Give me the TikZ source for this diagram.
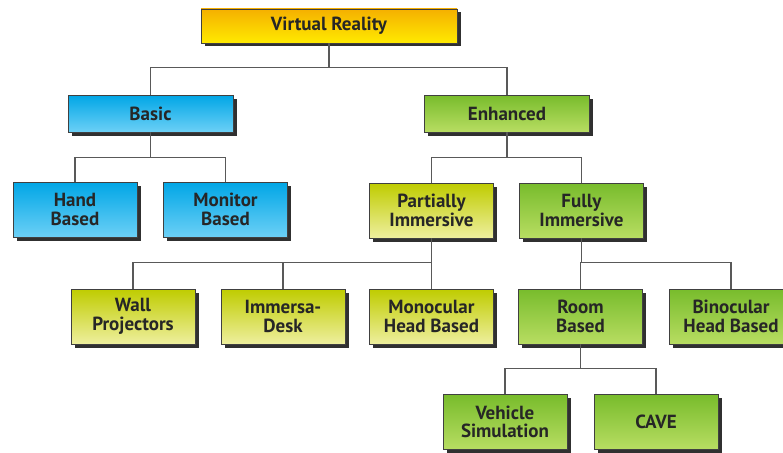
\documentclass[tikz,border=0pt]{standalone}
\usepackage{fontspec}
\setmainfont{PT Sans}
\usetikzlibrary{positioning,shadows}
\definecolor{vrtop}{HTML}{F5B000}
\definecolor{vrbot}{HTML}{FFEA00}
\definecolor{bltop}{HTML}{00A6E6}
\definecolor{blbot}{HTML}{6CD0F6}
\definecolor{grtop}{HTML}{78BC2C}
\definecolor{grbot}{HTML}{B8DD62}
\definecolor{ygtop}{HTML}{BFCC00}
\definecolor{ygbot}{HTML}{EEEF9E}
\tikzset{
  box/.style={rectangle,draw=black!75,line width=0.6pt,inner sep=0pt,align=center,
    font=\fontsize{19}{18.5}\selectfont\bfseries,text=black!85,
    drop shadow={shadow xshift=3.5pt,shadow yshift=-3.5pt,fill=black!90,opacity=0.9}},
  wide/.style={box,minimum width=165pt,minimum height=37pt},
  tall/.style={box,minimum width=124pt,minimum height=55pt},
  vrbox/.style={box,minimum width=256pt,minimum height=34pt,top color=vrtop,bottom color=vrbot},
  blue/.style={top color=bltop,bottom color=blbot},
  green/.style={top color=grtop,bottom color=grbot},
  ygreen/.style={top color=ygtop,bottom color=ygbot},
  link/.style={draw=black!65,line width=1.2pt},
}
\begin{document}
\begin{tikzpicture}[x=1pt,y=-1pt]
  \clip (0,0) rectangle (783,452);
  % level 0 and 1
  \node[vrbox] (vr) at (329,26) {Virtual Reality};
  \node[wide,blue] (basic) at (150.5,113.5) {Basic};
  \node[wide,green] (enh) at (507,113.5) {Enhanced};
  % level 2
  \node[tall,blue] (hand) at (75,209.5) {Hand\\Based};
  \node[tall,blue] (monitor) at (225.5,209.5) {Monitor\\Based};
  \node[tall,ygreen] (partial) at (431.5,210.5) {Partially\\Immersive};
  \node[tall,green] (fully) at (581.5,210.5) {Fully\\Immersive};
  % level 3
  \node[tall,ygreen] (wall) at (133,316.5) {Wall\\Projectors};
  \node[tall,ygreen] (desk) at (283,316.5) {Immersa-\\Desk};
  \node[tall,ygreen] (mono) at (431.5,316.5) {Monocular\\Head Based};
  \node[tall,green] (room) at (580.5,316.5) {Room\\Based};
  \node[tall,green] (bino) at (731,316.5) {Binocular\\Head Based};
  % level 4
  \node[tall,green] (vehicle) at (505,422) {Vehicle\\Simulation};
  \node[tall,green] (cave) at (656,422) {CAVE};
  % tree lines
  \draw[link] (vr.south) -- ++(0,24) coordinate (j0);
  \draw[link] (basic.north) |- (j0) -| (enh.north);
  \draw[link] (basic.south) -- ++(0,25) coordinate (j1);
  \draw[link] (hand.north) |- (j1) -| (monitor.north);
  \draw[link] (enh.south) -- ++(0,25) coordinate (j2);
  \draw[link] (partial.north) |- (j2) -| (fully.north);
  \draw[link] (partial.south) -- ++(0,24) coordinate (j3);
  \draw[link] (wall.north) |- (j3) -| (mono.north);
  \draw[link] (desk.north) -- (desk.north |- j3);
  \draw[link] (fully.south) -- ++(0,24) coordinate (j4);
  \draw[link] (room.north) |- (j4) -| (bino.north);
  \draw[link] (room.south) -- ++(0,24) coordinate (j5);
  \draw[link] (vehicle.north) |- (j5) -| (cave.north);
\end{tikzpicture}
\end{document}
